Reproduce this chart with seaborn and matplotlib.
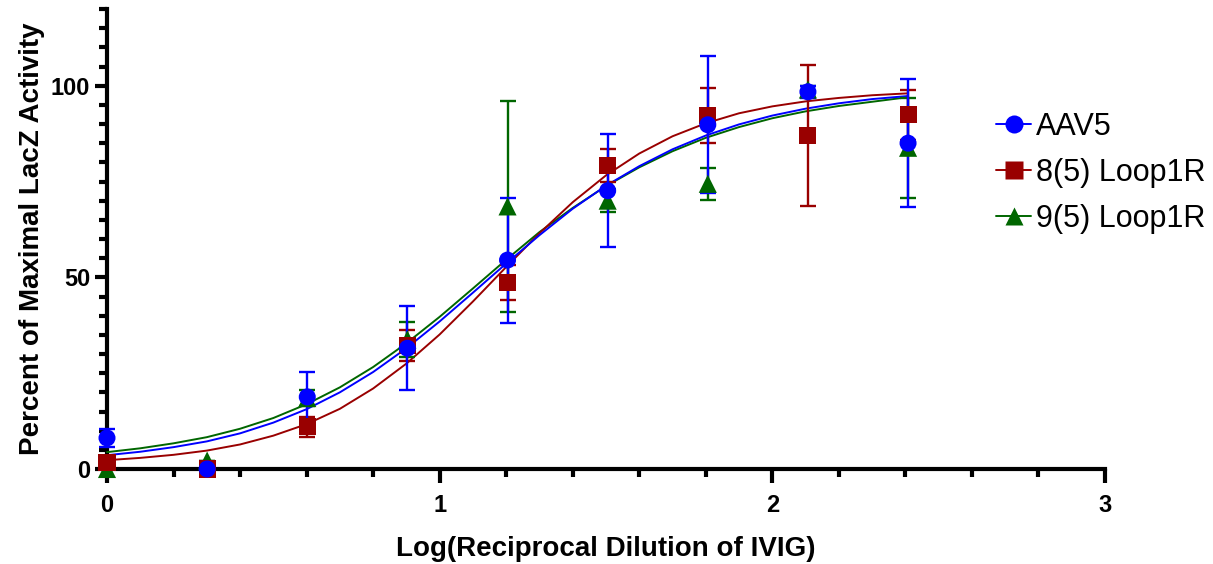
import numpy as np
import pandas as pd
import matplotlib
matplotlib.use("Agg")
import matplotlib.pyplot as plt
from matplotlib.lines import Line2D
from matplotlib.ticker import MultipleLocator
import seaborn as sns

# log10 of the reciprocal dilution (1, 2, 4, ... 256)
log_dilution = [0.0, 0.301, 0.602, 0.903, 1.204, 1.505, 1.806, 2.107, 2.408]

# mean percent of maximal LacZ activity, with SD
aav5_mean = [8.1, 0.0, 18.8, 31.5, 54.5, 72.6, 89.8, 98.4, 85.0]
aav5_sd = [2.4, 0.0, 6.4, 11.0, 16.3, 14.7, 17.9, 1.5, 16.7]
loop8_mean = [1.7, 0.0, 11.0, 32.3, 48.6, 79.3, 92.2, 87.1, 92.4]
loop8_sd = [1.0, 0.0, 2.6, 4.0, 4.5, 4.3, 7.2, 18.4, 6.6]
loop9_mean = [0.0, 2.2, 18.5, 33.8, 68.5, 70.0, 74.4, 99.0, 83.8]
loop9_sd = [0.0, 0.0, 2.0, 4.6, 27.5, 3.0, 4.2, 1.0, 13.0]

# fitted dose-response curves, every 0.1 log unit
curve_x = [0.0, 0.1, 0.2, 0.3, 0.4, 0.5, 0.6, 0.7, 0.8, 0.9, 1.0, 1.1, 1.2,
           1.3, 1.4, 1.5, 1.6, 1.7, 1.8, 1.9, 2.0, 2.1, 2.2, 2.3, 2.408]
aav5_fit = [3.6, 4.5, 5.7, 7.2, 9.3, 12.1, 15.6, 20.0, 25.3, 31.5, 38.5, 46.0, 53.6,
            61.0, 67.9, 73.9, 79.0, 83.4, 87.0, 89.9, 92.2, 94.0, 95.4, 96.5, 97.3]
loop8_fit = [2.3, 2.9, 3.7, 4.8, 6.4, 8.7, 11.7, 15.7, 21.0, 27.5, 35.1, 43.7, 52.7,
             61.5, 69.6, 76.6, 82.3, 86.8, 90.2, 92.8, 94.6, 95.9, 96.8, 97.5, 98.0]
loop9_fit = [4.4, 5.4, 6.7, 8.3, 10.5, 13.3, 16.9, 21.3, 26.6, 32.8, 39.7, 47.1, 54.6,
             61.8, 68.1, 73.8, 78.7, 82.9, 86.4, 89.2, 91.5, 93.3, 94.7, 95.8, 97.0]

series_names = ["AAV5", "8(5) Loop1R", "9(5) Loop1R"]
colors = {"AAV5": "#0000FF", "8(5) Loop1R": "#990000", "9(5) Loop1R": "#006600"}
markers = {"AAV5": "o", "8(5) Loop1R": "s", "9(5) Loop1R": "^"}

points = {
    "AAV5": (aav5_mean, aav5_sd),
    "8(5) Loop1R": (loop8_mean, loop8_sd),
    "9(5) Loop1R": (loop9_mean, loop9_sd),
}
fits = {"AAV5": aav5_fit, "8(5) Loop1R": loop8_fit, "9(5) Loop1R": loop9_fit}

curve_df = pd.concat(
    [pd.DataFrame({"x": curve_x, "y": fits[n], "series": n}) for n in series_names],
    ignore_index=True,
)

sns.set_theme(style="ticks")
plt.rcParams["font.family"] = ["Liberation Sans", "DejaVu Sans"]
plt.rcParams["text.color"] = "black"
plt.rcParams["axes.labelcolor"] = "black"
plt.rcParams["xtick.color"] = "black"
plt.rcParams["ytick.color"] = "black"

fig = plt.figure(figsize=(12.13, 5.64), dpi=100)
ax = fig.add_axes([107 / 1213, 95 / 564, 998 / 1213, 460 / 564])

# draw green first, then red, blue on top
draw_order = ["9(5) Loop1R", "8(5) Loop1R", "AAV5"]
for i, name in enumerate(draw_order):
    sub = curve_df[curve_df["series"] == name]
    sns.lineplot(data=sub, x="x", y="y", color=colors[name], linewidth=1.4,
                 ax=ax, legend=False, zorder=3 + i, clip_on=False)

for i, name in enumerate(draw_order):
    mean, sd = points[name]
    ax.errorbar(log_dilution, mean, yerr=sd, fmt="none", ecolor=colors[name],
                elinewidth=1.7, capsize=6, capthick=1.7, zorder=6 + i, clip_on=False)
    sns.scatterplot(x=log_dilution, y=mean, marker=markers[name], color=colors[name],
                    s=150 if name != "9(5) Loop1R" else 170, edgecolor="none",
                    ax=ax, zorder=9 + i, clip_on=False, legend=False)

ax.set_xlim(0, 3)
ax.set_ylim(0, 120)
ax.xaxis.set_major_locator(MultipleLocator(1))
ax.xaxis.set_minor_locator(MultipleLocator(0.2))
ax.yaxis.set_major_locator(MultipleLocator(50))
ax.yaxis.set_minor_locator(MultipleLocator(5))

sns.despine(ax=ax)
for side in ["left", "bottom"]:
    ax.spines[side].set_linewidth(3.0)
    ax.spines[side].set_color("black")
ax.tick_params(axis="x", which="major", length=10, width=3.0, pad=8, labelsize=17)
ax.tick_params(axis="y", which="major", length=9, width=3.0, pad=3, labelsize=17)
ax.tick_params(which="minor", length=6, width=3.0)
for lab in ax.get_xticklabels() + ax.get_yticklabels():
    lab.set_fontweight("bold")

ax.set_xlabel("Log(Reciprocal Dilution of IVIG)", fontsize=20, fontweight="bold",
              labelpad=14)
ax.set_ylabel("Percent of Maximal LacZ Activity", fontsize=20, fontweight="bold",
              labelpad=4)

handles = [
    Line2D([], [], color=colors[n], marker=markers[n], markersize=13,
           linewidth=1.4, markeredgecolor="none")
    for n in series_names
]
fig.legend(handles, series_names, loc="center left",
           bbox_to_anchor=(996 / 1213, (564 - 173) / 564), frameon=False,
           fontsize=22, handlelength=1.15, handletextpad=0.15, labelspacing=0.52,
           borderpad=0, borderaxespad=0)

fig.savefig("out.png", dpi=100)
